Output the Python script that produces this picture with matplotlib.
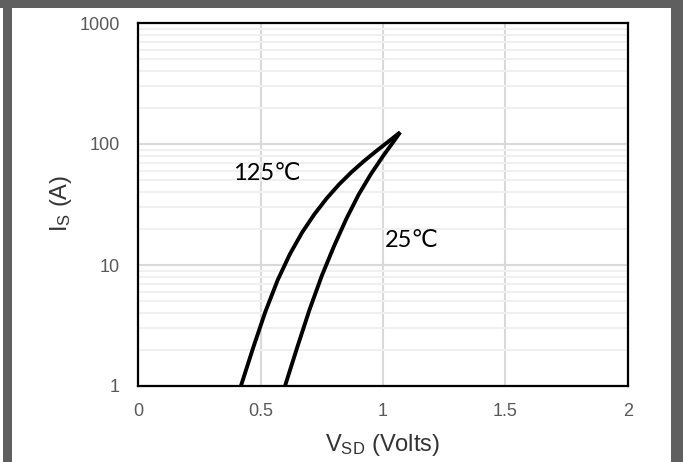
import matplotlib.pyplot as plt
from matplotlib.patches import Rectangle
from matplotlib.ticker import LogLocator, NullFormatter, FixedLocator

plt.rcParams['font.family'] = 'Liberation Sans'
plt.rcParams['mathtext.default'] = 'regular'

# Body diode forward characteristic, Is vs Vsd
v_125 = [0.42, 0.47, 0.52, 0.57, 0.62, 0.67, 0.72, 0.77, 0.82,
         0.87, 0.92, 0.97, 1.02, 1.07]
i_125 = [1.0, 2.07, 4.12, 7.50, 12.3, 18.6, 26.3, 35.5, 46.2,
         58.2, 71.6, 86.6, 104.0, 125.0]
v_25 = [0.60, 0.65, 0.70, 0.75, 0.80, 0.85, 0.90, 0.95, 1.00, 1.05, 1.07]
i_25 = [1.0, 2.09, 4.27, 8.13, 14.3, 24.0, 38.0, 56.2, 79.4, 109.6, 125.0]

x_ticks = [0, 0.5, 1, 1.5, 2]
x_tick_labels = ['0', '0.5', '1', '1.5', '2']
y_ticks = [1, 10, 100, 1000]
y_tick_labels = ['1', '10', '100', '1000']

W, H = 683, 462
fig = plt.figure(figsize=(W / 100, H / 100), dpi=100)

# dark frame around the chart
frame_col = '#5f5f5f'
fig.patches.append(Rectangle((0, 1 - 8 / H), 1, 8 / H, transform=fig.transFigure,
                             facecolor=frame_col, edgecolor='none', zorder=0))
fig.patches.append(Rectangle((3 / W, 0), 9 / W, 1, transform=fig.transFigure,
                             facecolor=frame_col, edgecolor='none', zorder=0))
fig.patches.append(Rectangle((671 / W, 0), 12 / W, 1, transform=fig.transFigure,
                             facecolor=frame_col, edgecolor='none', zorder=0))

ax = fig.add_axes([138 / W, (H - 386) / H, 490 / W, 363 / H])
ax.set_yscale('log')
ax.set_xlim(0, 2)
ax.set_ylim(1, 1000)

ax.plot(v_125, i_125, color='black', lw=2.8, solid_capstyle='butt', solid_joinstyle='round', zorder=3)
ax.plot(v_25, i_25, color='black', lw=2.8, solid_capstyle='butt', solid_joinstyle='round', zorder=3)

ax.text(0.388, 57, '125℃', fontsize=17, family=['Lato', 'DejaVu Sans'], va='center', ha='left')
ax.text(1.008, 16, '25℃', fontsize=17, family=['Lato', 'DejaVu Sans'], va='center', ha='left')

ax.xaxis.set_major_locator(FixedLocator(x_ticks))
ax.set_xticklabels(x_tick_labels)
ax.yaxis.set_major_locator(FixedLocator(y_ticks))
ax.set_yticklabels(y_tick_labels)
ax.yaxis.set_minor_locator(LogLocator(base=10, subs=range(2, 10)))
ax.yaxis.set_minor_formatter(NullFormatter())

ax.grid(True, which='major', axis='x', color='#d9d9d9', lw=1.5)
ax.grid(True, which='major', axis='y', color='#d9d9d9', lw=1.5)
ax.grid(True, which='minor', axis='y', color='#f0f0f0', lw=1.5)
ax.set_axisbelow(True)

ax.tick_params(which='both', length=0)
ax.tick_params(axis='y', pad=13, labelsize=13, labelcolor='#595959')
ax.tick_params(axis='x', pad=12, labelsize=13, labelcolor='#595959')

for s in ax.spines.values():
    s.set_linewidth(1.6)
    s.set_color('black')

fig.text(383 / W, 1 - 445 / H, r'$V_{SD}$ (Volts)', fontsize=17, ha='center', va='center', color='#333333')
fig.text(61 / W, 1 - 203 / H, r'$I_S$ (A)', fontsize=17, ha='center', va='center', rotation=90, color='#333333')

fig.savefig('out.png', dpi=100)
